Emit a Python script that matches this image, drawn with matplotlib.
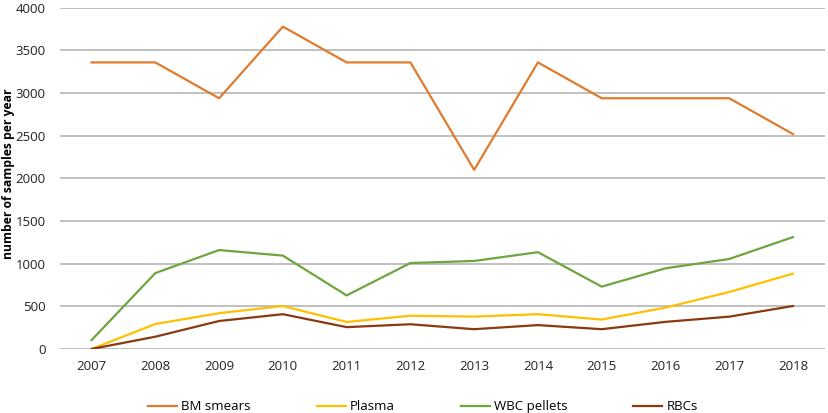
import numpy as np
import matplotlib
matplotlib.use('Agg')
import matplotlib.pyplot as plt

years = ['2007', '2008', '2009', '2010', '2011', '2012', '2013', '2014', '2015', '2016', '2017', '2018']
bm_smears = [3360, 3360, 2940, 3780, 3360, 3360, 2100, 3360, 2940, 2940, 2940, 2520]
plasma = [0, 293, 420, 504, 317, 390, 380, 408, 345, 485, 668, 883]
wbc_pellets = [104, 890, 1160, 1095, 628, 1008, 1032, 1135, 731, 946, 1055, 1312]
rbcs = [0, 144, 328, 408, 256, 290, 232, 280, 232, 318, 379, 504]

plt.rcParams['font.family'] = ['Open Sans', 'DejaVu Sans']

fig = plt.figure(figsize=(8.29, 4.13), dpi=100)
ax = fig.add_axes([0.072, 0.155, 0.923, 0.826])

x = np.arange(len(years))
ax.plot(x, bm_smears, color='#E07B2E', lw=1.6, label='BM smears')
ax.plot(x, plasma, color='#FFC000', lw=1.6, label='Plasma')
ax.plot(x, wbc_pellets, color='#6FA53F', lw=1.6, label='WBC pellets')
ax.plot(x, rbcs, color='#8A3A10', lw=1.6, label='RBCs')

ax.set_xlim(-0.5, len(years) - 0.5)
ax.set_ylim(0, 4000)
ax.set_yticks(np.arange(0, 4001, 500))
ax.set_xticks(x)
ax.set_xticklabels(years)
ax.grid(axis='y', color='#B5B5B5', lw=1.2)
ax.set_axisbelow(True)
for s in ax.spines.values():
    s.set_visible(False)
ax.tick_params(length=0, labelsize=9.5, colors='#222222')
ax.tick_params(axis='y', pad=10)
ax.tick_params(axis='x', pad=8)
ax.set_ylabel('number of samples per year', fontsize=8.7, fontweight='bold')
ax.yaxis.set_label_coords(-0.059, 0.513)

ax.legend(loc='center', bbox_to_anchor=(0.475, -0.17), ncol=4, frameon=False,
          fontsize=9.5, handlelength=2.2, columnspacing=5.0, handletextpad=0.3)

fig.savefig('out.png', dpi=100)
